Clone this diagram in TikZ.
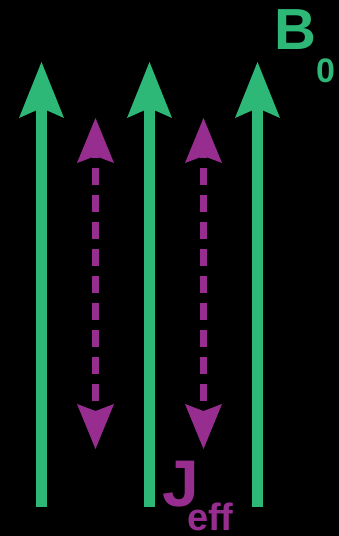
\documentclass[tikz,border=0pt]{standalone}
\usepackage{fontspec}
\setmainfont{Liberation Sans}
\usetikzlibrary{arrows.meta}
\definecolor{bgreen}{HTML}{2DB877}
\definecolor{jpurple}{HTML}{982D90}
\tikzset{
  barrow/.style={draw=bgreen, line width=11pt,
    -{Stealth[length=56pt,width=45pt,inset=10pt,line width=0pt]}},
  jarrow/.style={draw=jpurple, line width=7pt,
    dash pattern=on 17pt off 10pt, dash phase=15pt,
    {Stealth[length=45pt,width=37pt,inset=7pt,line width=0pt]}-{Stealth[length=45pt,width=37pt,inset=7pt,line width=0pt]}},
  lbl/.style={inner sep=0pt, anchor=base west, font=\bfseries}
}
\begin{document}
\begin{tikzpicture}[x=1pt,y=-1pt]
\fill[black] (0,0) rectangle (339,536);
\useasboundingbox (0,0) rectangle (339,536);
% green field arrows
\coordinate (b1s) at (41.5,507); \coordinate (b1e) at (41.5,62);
\coordinate (b2s) at (149.5,507); \coordinate (b2e) at (149.5,62);
\coordinate (b3s) at (257.5,507); \coordinate (b3e) at (257.5,62);
\draw[barrow] (b1s) -- (b1e);
\draw[barrow] (b2s) -- (b2e);
\draw[barrow] (b3s) -- (b3e);
% purple coupling arrows
\coordinate (j1a) at (95.5,118); \coordinate (j1b) at (95.5,449);
\coordinate (j2a) at (203.5,118); \coordinate (j2b) at (203.5,449);
\draw[jarrow] (j1a) -- (j1b);
\draw[jarrow] (j2a) -- (j2b);
% labels
\node[lbl, text=bgreen, font=\bfseries\fontsize{58}{58}\selectfont] (B) at (274,49) {B};
\node[lbl, text=bgreen, font=\bfseries\fontsize{34}{34}\selectfont] (B0) at (316,82) {0};
\node[lbl, text=jpurple, font=\bfseries\fontsize{66}{66}\selectfont] (J) at (162,506) {J};
\node[lbl, text=jpurple, font=\bfseries\fontsize{38}{38}\selectfont] (Jeff) at (187,530) {eff};
\end{tikzpicture}
\end{document}
